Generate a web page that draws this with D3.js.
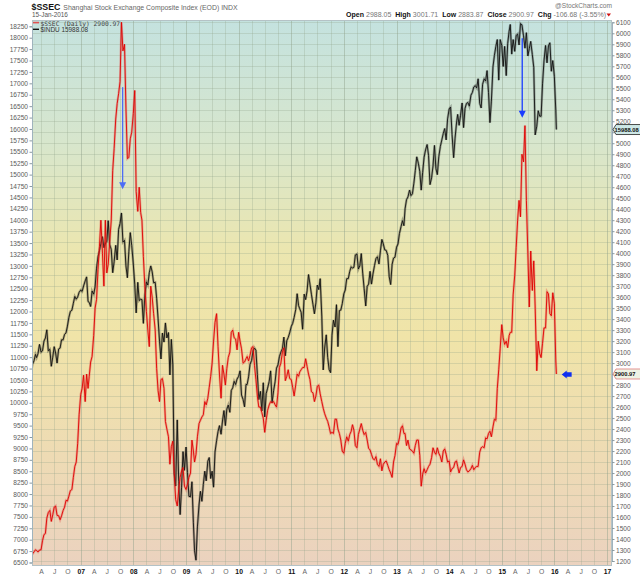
<!DOCTYPE html>
<html>
<head>
    <meta charset="utf-8">
    <title>$SSEC vs $INDU</title>
    <style>
    body {margin: 0; background: #fff}
    svg {display: block; font-family: "Liberation Sans", Arial, sans-serif}
    .axis text {font-size: 6.6px; fill: #5a5a5a}
    .axis path {stroke: #9fb3bd}
    .axis line {stroke: #8a9aa0}
    .x text {fill: #666; font-size: 6.8px}
    .x text.yr {fill: #111; font-weight: bold}
    .grid line {stroke: #8fa08a; stroke-opacity: .28; shape-rendering: crispEdges}
    </style>
</head>

<body>
    <script src="https://cdn.jsdelivr.net/npm/d3@7"></script>
    <script>

    // Shanghai Composite, three samples a month (1st, 11th, 21st)
    var ssec06 = [1161,1225,1262, 1265,1283,1302, 1295,1282,1300, 1302,1385,1440, 1450,1590,1640, 1660,1560,1620,
                  1690,1700,1615, 1612,1575,1610, 1660,1690,1752, 1745,1790,1840, 1850,1960,2060, 2100,2270,2530]
    var ssec07 = [2715,2770,2890, 2650,2900,2770, 2880,3010,3060, 3250,3500,3580, 3850,4060,4300, 4000,3700,4300,
                  3820,3900,4100, 4300,4750,4950, 5220,5360,5450, 5560,6100,5840, 5900,5320,4860, 4870,5040,5100]
    var ssec08 = [5270,5480,4560, 4380,4600,4370, 4300,3970,3700, 3470,3300,3150, 3700,3600,3450, 3300,2950,2750,
                  2650,2850,2860, 2770,2470,2400, 2330,2080,2240, 2290,2000,1760, 1700,1850,1960, 2020,2050,1880]
    var ssec09 = [1850,1900,1960, 2000,2300,2200, 2100,2170,2330, 2450,2480,2510, 2530,2650,2620, 2680,2780,2880,
                  3000,3200,3370, 3450,3150,2900, 2680,2980,2900, 2800,2950,3050, 3100,3280,3300, 3230,3220,3120]
    var ssec10 = [3280,3200,3130, 3000,3010,3040, 3060,3020,3070, 3140,3150,2980, 2850,2700,2600, 2600,2550,2500,
                  2370,2480,2570, 2620,2650,2640, 2650,2620,2600, 2730,2960,3000, 3100,3140,2840, 2880,2940,2860]
    var ssec11 = [2850,2780,2700, 2800,2900,2880, 2920,2940,2960, 2960,3040,2970, 2900,2850,2740, 2730,2650,2700,
                  2790,2800,2720, 2650,2590,2540, 2500,2470,2420, 2360,2370,2360, 2490,2490,2400, 2360,2300,2200]
    var ssec12 = [2180,2270,2330, 2290,2350,2380, 2440,2390,2250, 2230,2350,2400, 2450,2390,2350, 2370,2300,2225,
                  2210,2170,2130, 2120,2150,2080, 2060,2130,2020, 2080,2100,2110, 2070,2030,2000, 1960,2100,2160]
    var ssec13 = [2270,2260,2320, 2410,2430,2360, 2360,2250,2300, 2220,2210,2200, 2180,2250,2300, 2300,2160,1880,
                  1990,2040,2000, 2030,2060,2080, 2140,2230,2190, 2170,2230,2180, 2150,2100,2200, 2220,2170,2100]
    var ssec14 = [2110,2010,2040, 2050,2100,2110, 2060,2000,2050, 2060,2120,2080, 2030,2010,2020, 2040,2070,2030,
                  2050,2060,2060, 2190,2230,2240, 2230,2320,2310, 2360,2380,2330, 2420,2490,2480, 2770,2940,3130]
    var ssec15 = [3350,3230,3170, 3200,3140,3250, 3280,3280,3620, 3800,4050,4300, 4480,4330,4900, 4830,5160,4480,
                  4000,3510,4020, 3660,3930,3500, 2930,3200,3090, 3050,3180,3320, 3320,3650,3630, 3450,3430,3640]
    var ssec16 = [3540, 3020]
    var ssecLast = 2900.97

    // Dow Jones Industrials, same sampling
    var dow06 = [10850,10960,10670, 10850,10920,11060, 10990,11080,11280, 11110,11140,11350, 11420,11600,11140,
                 11170,10800,11000, 11230,11090,10870, 11180,11200,11380, 11380,11500,11530, 11680,11870,12000,
                 12030,12180,12330, 12270,12320,12420]
    var dow07 = [12470,12440,12560, 12670,12760,12220, 12200,12110,12450, 12380,12540,12950, 13200,13330,13490,
                 13640,13400,13500, 13530,13990,13470, 13360,12850,13090, 13450,13130,13800, 13930,14160,13520,
                 13560,13000,12740, 13310,13730,13450]
    var dow08 = [13040,12600,11970, 12640,12240,12270, 12260,11740,12360, 12650,12580,12850, 13000,12870,12630,
                 12640,12290,11840, 11350,10960,11530, 11330,11750,11420, 11540,10610,11390, 10830,8450,8175,
                 9625,8280,7550, 8150,8930,8520]
    var dow09 = [9030,8470,7950, 7940,8270,7370, 6760,6550,7280, 7760,8060,7840, 8210,8500,8290,
                 8720,8800,8340, 8500,8150,8920, 9170,9370,9500, 9310,9600,9830, 9500,9860,9950,
                 9790,10270,10330, 10470,10400,10520]
    var dow10 = [10580,10700,10170, 10070,9910,10400, 10400,10570,10840, 10930,11140,11200, 11150,10620,10070,
                 10250,9820,10440, 9690,10200,10320, 10470,10700,10000, 10270,10460,10760, 10830,11010,11110,
                 11190,11440,11030, 11360,11430,11530]
    var dow11 = [11670,11740,11870, 12040,12390,12130, 12060,11980,11610, 12380,12260,12450, 12810,12600,12380,
                 12150,11950,12190, 12580,12480,12720, 11900,10720,11200, 11490,10990,10730, 10660,11480,11810,
                 11660,12150,11230, 12020,12030,12170]
    var dow12 = [12390,12470,12720, 12720,12880,12980, 12950,12970,13240, 13260,12930,13000, 13270,12840,12500,
                 12120,12550,12600, 12880,12600,12820, 13010,13160,13200, 13040,13330,13580, 13480,13350,13340,
                 13230,12760,12590, 13030,13170,13190]
    var dow13 = [13410,13480,13710, 13860,13990,13880, 14250,14450,14510, 14660,14540,14580, 14810,15090,15390,
                 15250,15070,14660, 15050,15380,15540, 15660,15420,14780, 14930,15190,15640, 15130,15000,15390,
                 15620,15760,15900, 16010,15760,16220]
    var dow14 = [16440,16480,15880, 15370,15800,16130, 16320,16080,16300, 16570,16030,16450, 16560,16580,16500,
                 16740,16800,16920, 16950,16900,17100, 16560,16460,16980, 17100,17050,17280, 16800,16140,16610,
                 17360,17610,17810, 17960,17070,17960]
    var dow15 = [17830,17370,17810, 17170,17870,18140, 18290,17640,17960, 17700,18050,18080, 17840,18310,18280,
                 18040,17770,18110, 17600,17760,17920, 17630,17350,15870, 16060,16400,16280, 16280,16990,17490,
                 17830,17450,17820, 17890,17265,17500]
    var dow16 = [17150, 16400]
    var dowLast = 15988.08

    var sampleDays = [1, 11, 21]
    var lastDate = new Date(2016, 0, 15)

    // left axis is the Dow, right axis the Shanghai index
    var dowTicks = d3.range(6500, 18251, 250),
        ssecTicks = d3.range(1200, 6101, 100)
    var monthLetters = {3: 'A', 6: 'J', 9: 'O'}

    // blue annotation arrows, in data terms
    var arrowsDown = [
        {date: new Date(2007, 9, 19), from: 5510, to: 4590, color: '#4d6df5'},
        {date: new Date(2015, 4, 23), from: 5955, to: 5240, color: '#1a3dff'}
    ]
    var arrowLeft = {from: new Date(2016, 3, 30), to: new Date(2016, 1, 21), value: 2897}

    var width = 640,
        height = 576,
        plot = {left: 32, right: 612, top: 20, bottom: 566}

    function build(years, last){
        var out = []
        years.forEach(function(vals, k){
            vals.forEach(function(v, i){
                out.push({date: new Date(2006 + k, Math.floor(i / 3), sampleDays[i % 3]), v: v})
            })
        })
        out.push({date: lastDate, v: last})
        return out
    }

    var ssec = build([ssec06, ssec07, ssec08, ssec09, ssec10, ssec11, ssec12, ssec13, ssec14, ssec15, ssec16], ssecLast),
        dow = build([dow06, dow07, dow08, dow09, dow10, dow11, dow12, dow13, dow14, dow15, dow16], dowLast)

    var x = d3.scaleTime()
        .domain([new Date(2006, 0, 28), new Date(2017, 1, 4)])
        .range([plot.left, plot.right])
    var yL = d3.scaleLinear().domain([6500, 18250]).range([562.5, 26.3])
    var yR = d3.scaleLinear().domain([1200, 6100]).range([561, 22.3])

    var svg = d3.select('body').append('svg')
        .attr('width', width)
        .attr('height', height)

    var defs = svg.append('defs')
    var grad = defs.append('linearGradient')
        .attr('id', 'bg')
        .attr('gradientUnits', 'userSpaceOnUse')
        .attr('x1', 0).attr('x2', 0)
        .attr('y1', plot.top).attr('y2', plot.bottom)
    ;[[0, '#c4e2df'], [0.22, '#d7e6cd'], [0.42, '#ebe6b0'], [0.58, '#f0e4a8'], [0.8, '#eedbb4'], [1, '#ebd2bf']]
        .forEach(function(s){
            grad.append('stop').attr('offset', s[0]).attr('stop-color', s[1])
        })
    defs.append('clipPath').attr('id', 'clip')
        .append('rect')
        .attr('x', plot.left).attr('y', plot.top)
        .attr('width', plot.right - plot.left).attr('height', plot.bottom - plot.top)

    svg.append('rect')
        .attr('x', plot.left).attr('y', plot.top)
        .attr('width', plot.right - plot.left).attr('height', plot.bottom - plot.top)
        .attr('fill', 'url(#bg)')

    // quarter dates for the x axis
    var quarters = d3.timeMonth.every(3).range(new Date(2006, 3, 1), new Date(2017, 0, 2))

    // grid
    var grid = svg.append('g').attr('class', 'grid')
    grid.selectAll('.h').data(ssecTicks).enter().append('line')
        .attr('x1', plot.left).attr('x2', plot.right)
        .attr('y1', function(d){ return Math.round(yR(d)) + 0.5 })
        .attr('y2', function(d){ return Math.round(yR(d)) + 0.5 })
    grid.selectAll('.v').data(quarters).enter().append('line')
        .attr('y1', plot.top).attr('y2', plot.bottom)
        .attr('x1', function(d){ return Math.round(x(d)) + 0.5 })
        .attr('x2', function(d){ return Math.round(x(d)) + 0.5 })
        .style('stroke-opacity', function(d){ return d.getMonth() === 0 ? 0.45 : null })

    // series
    var lineDow = d3.line().x(function(d){ return x(d.date) }).y(function(d){ return yL(d.v) })
    var lineSsec = d3.line().x(function(d){ return x(d.date) }).y(function(d){ return yR(d.v) })

    var series = svg.append('g').attr('clip-path', 'url(#clip)')
    series.append('path').datum(dow)
        .attr('d', lineDow).attr('fill', 'none')
        .attr('stroke', 'rgba(0,0,0,0.28)').attr('stroke-width', 2.4)
    series.append('path').datum(dow)
        .attr('d', lineDow).attr('fill', 'none')
        .attr('stroke', '#111').attr('stroke-width', 0.9)
    series.append('path').datum(ssec)
        .attr('d', lineSsec).attr('fill', 'none')
        .attr('stroke', 'rgba(225,60,60,0.35)').attr('stroke-width', 2.4)
    series.append('path').datum(ssec)
        .attr('d', lineSsec).attr('fill', 'none')
        .attr('stroke', '#e00000').attr('stroke-width', 0.9)

    // arrows
    arrowsDown.forEach(function(a){
        var ax = x(a.date), y0 = yR(a.from), y1 = yR(a.to)
        svg.append('line')
            .attr('x1', ax).attr('x2', ax).attr('y1', y0).attr('y2', y1 - 5)
            .attr('stroke', a.color).attr('stroke-width', 1.3)
        svg.append('path')
            .attr('d', 'M' + (ax - 3.5) + ',' + (y1 - 6) + 'L' + (ax + 3.5) + ',' + (y1 - 6) + 'L' + ax + ',' + (y1 + 1) + 'Z')
            .attr('fill', a.color)
    })
    var lx0 = x(arrowLeft.to), lx1 = x(arrowLeft.from), ly = yR(arrowLeft.value)
    svg.append('path')
        .attr('d', 'M' + lx0 + ',' + ly + 'L' + (lx0 + 5) + ',' + (ly - 4) + 'L' + (lx0 + 5) + ',' + (ly - 2.2)
            + 'L' + lx1 + ',' + (ly - 2.2) + 'L' + lx1 + ',' + (ly + 2.2) + 'L' + (lx0 + 5) + ',' + (ly + 2.2)
            + 'L' + (lx0 + 5) + ',' + (ly + 4) + 'Z')
        .attr('fill', '#1030f0')

    // frame
    svg.append('rect')
        .attr('x', plot.left + 0.5).attr('y', plot.top + 0.5)
        .attr('width', plot.right - plot.left - 1).attr('height', plot.bottom - plot.top - 1)
        .attr('fill', 'none').attr('stroke', '#b4c2c6')

    // axes
    svg.append('g').attr('class', 'axis')
        .attr('transform', 'translate(' + plot.left + ',0)')
        .call(d3.axisLeft(yL).tickValues(dowTicks).tickSize(2.5).tickPadding(1.5).tickFormat(d3.format('d')))
    var ra = svg.append('g').attr('class', 'axis')
        .attr('transform', 'translate(' + plot.right + ',0)')
        .call(d3.axisRight(yR).tickValues(ssecTicks).tickSize(2.5).tickPadding(1.5).tickFormat(d3.format('d')))
    var xa = svg.append('g').attr('class', 'axis x')
        .attr('transform', 'translate(0,' + plot.bottom + ')')
        .call(d3.axisBottom(x).tickValues(quarters).tickSize(0).tickPadding(3.5)
            .tickFormat(function(d){ return d.getMonth() === 0 ? d3.timeFormat('%y')(d) : monthLetters[d.getMonth()] }))
    xa.select('.domain').remove()
    xa.selectAll('text').classed('yr', function(d){ return d.getMonth() === 0 })

    // last value tags on the right; they sit over the axis labels they cover
    var tagYs = [yL(dowLast), yR(ssecLast)]
    ra.selectAll('.tick text').filter(function(d){
        return tagYs.some(function(t){ return Math.abs(yR(d) - t) < 6 })
    }).remove()

    function tag(yv, label, fill, stroke){
        var g = svg.append('g')
        g.append('path')
            .attr('d', 'M' + (plot.right + 1) + ',' + yv + 'L' + (plot.right + 4) + ',' + (yv - 5) + 'L' + (width + 2) + ','
                + (yv - 5) + 'L' + (width + 2) + ',' + (yv + 5) + 'L' + (plot.right + 4) + ',' + (yv + 5) + 'Z')
            .attr('fill', fill).attr('stroke', stroke).attr('stroke-width', 0.8)
        g.append('text')
            .attr('x', plot.right + 2.5).attr('y', yv + 2.1)
            .style('font-size', '5.8px').style('font-weight', 'bold').style('fill', '#111')
            .text(label)
    }
    tag(tagYs[0], d3.format('.2f')(dowLast), '#cde7e6', '#222')
    tag(tagYs[1], d3.format('.2f')(ssecLast), '#eef3e4', '#e07a7a')

    // legend
    var lg = svg.append('g')
    lg.append('rect').attr('x', 33).attr('y', 21.8).attr('width', 6).attr('height', 1.6).attr('fill', '#e05050')
    lg.append('text').attr('x', 40.5).attr('y', 25.6)
        .style('font-family', '"DejaVu Sans Mono", monospace').style('font-size', '6.3px').style('fill', '#444')
        .text('$SSEC (Daily) ' + ssecLast.toFixed(2))
    lg.append('rect').attr('x', 33).attr('y', 28.6).attr('width', 6).attr('height', 1.4).attr('fill', '#111')
    lg.append('text').attr('x', 40.5).attr('y', 31.8)
        .style('font-size', '6.4px').style('fill', '#333')
        .text('$INDU ' + dowLast.toFixed(2))

    // header
    var hd = svg.append('text').attr('x', 31.5).attr('y', 9.8)
    hd.append('tspan').style('font-size', '8.8px').style('font-weight', 'bold').style('fill', '#111').text('$SSEC')
    hd.append('tspan').attr('dx', 3).style('font-size', '6.9px').style('fill', '#666')
        .text('Shanghai Stock Exchange Composite Index (EOD) INDX')
    svg.append('text').attr('x', 32).attr('y', 17.4)
        .style('font-size', '6.4px').style('fill', '#555').text('15-Jan-2016')
    svg.append('text').attr('x', 612).attr('y', 8).attr('text-anchor', 'end')
        .style('font-size', '6.6px').style('fill', '#777').text('@StockCharts.com')

    var quote = [['Open', '2988.05'], ['High', '3001.71'], ['Low', '2883.87'], ['Close', '2900.97'], ['Chg', '-106.68 (-3.55%)']]
    var qt = svg.append('text').attr('x', 606).attr('y', 17.4).attr('text-anchor', 'end').style('font-size', '7px')
    quote.forEach(function(q, i){
        qt.append('tspan').attr('dx', i ? 4 : 0).style('font-weight', 'bold').style('fill', '#111').text(q[0])
        qt.append('tspan').attr('dx', 2).style('fill', '#777').text(q[1])
    })
    svg.append('path').attr('d', 'M606.5,13.5L611,13.5L608.75,16.5Z').attr('fill', '#d01010')

    </script>
</body>
</html>
